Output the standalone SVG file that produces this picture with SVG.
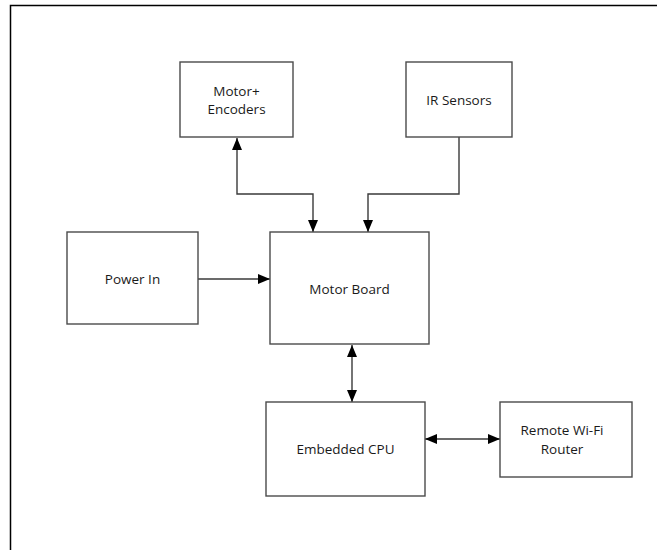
<svg xmlns="http://www.w3.org/2000/svg" width="657" height="550" viewBox="0 0 657 550">
  <style>
    .box { fill: #ffffff; stroke: #4a4a4a; stroke-width: 1.4; }
    .lbl { font-family: "Open Sans", "Liberation Sans", sans-serif; font-size: 13.5px; fill: #1a1a1a; text-anchor: middle; }
    .wire { fill: none; stroke: #3a3a3a; stroke-width: 1.4; }
    .frame { fill: none; stroke: #000000; stroke-width: 1.5; }
  </style>
  <defs>
    <marker id="arrow" viewBox="0 0 12 10" refX="12" refY="5" markerWidth="12" markerHeight="10" markerUnits="userSpaceOnUse" orient="auto-start-reverse">
      <path d="M0,0 L12,5 L0,10 Z" fill="#000000"/>
    </marker>
  </defs>

  <rect x="0" y="0" width="657" height="550" fill="#ffffff"/>
  <!-- page frame: top and left edges only -->
  <path class="frame" d="M10.5,550 V5.5 H657"/>

  <g id="connectors">
    <path class="wire" d="M237,138 V194 H313 V232" marker-start="url(#arrow)" marker-end="url(#arrow)"/>
    <path class="wire" d="M459,137 V194 H368 V232" marker-end="url(#arrow)"/>
    <path class="wire" d="M198,279 H270" marker-end="url(#arrow)"/>
    <path class="wire" d="M352,345 V402" marker-start="url(#arrow)" marker-end="url(#arrow)"/>
    <path class="wire" d="M425,439 H500" marker-start="url(#arrow)" marker-end="url(#arrow)"/>
  </g>

  <g id="motor-encoders">
    <rect class="box" x="180" y="62" width="113" height="75"/>
    <text class="lbl" x="236.5" y="96">Motor+</text>
    <text class="lbl" x="236.5" y="114">Encoders</text>
  </g>

  <g id="ir-sensors">
    <rect class="box" x="406" y="62" width="106" height="75"/>
    <text class="lbl" x="459" y="105">IR Sensors</text>
  </g>

  <g id="power-in">
    <rect class="box" x="67" y="232" width="131" height="92"/>
    <text class="lbl" x="132.5" y="284">Power In</text>
  </g>

  <g id="motor-board">
    <rect class="box" x="270" y="232" width="159" height="112"/>
    <text class="lbl" x="349.5" y="294">Motor Board</text>
  </g>

  <g id="embedded-cpu">
    <rect class="box" x="266" y="402" width="159" height="94"/>
    <text class="lbl" x="345.5" y="454">Embedded CPU</text>
  </g>

  <g id="wifi-router">
    <rect class="box" x="500" y="402" width="132" height="75"/>
    <text class="lbl" x="562" y="435">Remote Wi-Fi</text>
    <text class="lbl" x="562" y="454">Router</text>
  </g>
</svg>
